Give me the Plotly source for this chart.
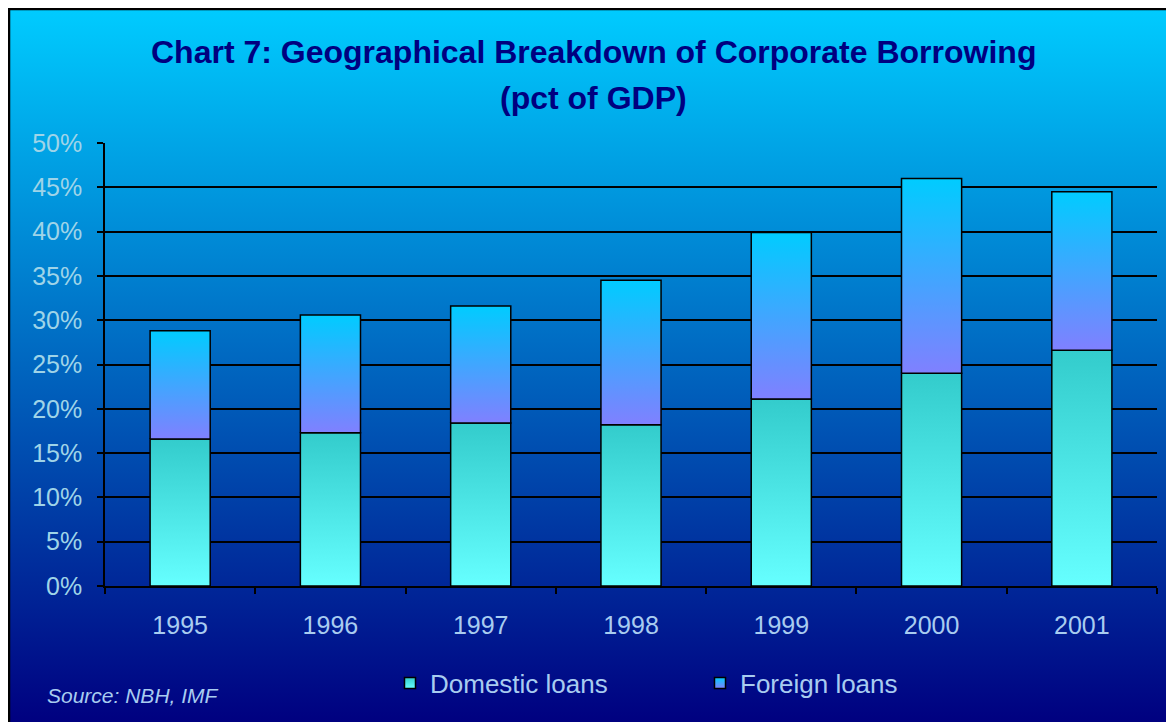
"""Chart 7: geographical breakdown of corporate borrowing, stacked bars with gradients."""

import base64

import plotly.graph_objects as go

years = ["1995", "1996", "1997", "1998", "1999", "2000", "2001"]
domestic = [16.6, 17.3, 18.4, 18.2, 21.1, 24.0, 26.6]
foreign = [12.2, 13.3, 13.2, 16.3, 18.8, 22.0, 17.9]
y_ticks = [0, 5, 10, 15, 20, 25, 30, 35, 40, 45, 50]

W, H = 1166, 714
M = dict(l=97, r=17, t=135, b=136)
PW = W - M["l"] - M["r"]
PH = H - M["t"] - M["b"]

BAR_HALF = 0.2
TEXT = "#A8CCF0"
FONT = "Liberation Sans, Arial, sans-serif"

DOM_COLORS = ("#66FFFF", "#33CCCC")   # bottom, top
FOR_COLORS = ("#8080FF", "#00CCFF")


def _bg_image() -> str:
    svg = (
        f'<svg xmlns="http://www.w3.org/2000/svg" width="{W}" height="{H}">'
        '<defs><linearGradient id="g" x1="0" y1="0" x2="0" y2="1">'
        '<stop offset="0" stop-color="#00CCFF"/>'
        '<stop offset="1" stop-color="#000080"/>'
        "</linearGradient></defs>"
        f'<rect width="{W}" height="{H}" fill="url(#g)"/>'
        f'<path d="M1 {H} V1 H{W}" fill="none" stroke="#000" stroke-width="2.5"/>'
        "</svg>"
    )
    return "data:image/svg+xml;base64," + base64.b64encode(svg.encode()).decode()


def _segment(i, base, height, colors, name):
    x0, x1 = i - BAR_HALF, i + BAR_HALF
    top = base + height
    return go.Scatter(
        x=[x0, x1, x1, x0, x0],
        y=[base, base, top, top, base],
        mode="lines",
        fill="toself",
        fillgradient=dict(
            type="vertical",
            colorscale=[[0, colors[0]], [1, colors[1]]],
        ),
        line=dict(color="black", width=1.5),
        name=name,
        showlegend=False,
        hoverinfo="skip",
    )


fig = go.Figure()

for i in range(len(years)):
    fig.add_trace(_segment(i, 0, domestic[i], DOM_COLORS, "Domestic loans"))
    fig.add_trace(_segment(i, domestic[i], foreign[i], FOR_COLORS, "Foreign loans"))

# legend-only entries with small square swatches
for name, colors in (("Domestic loans", DOM_COLORS), ("Foreign loans", FOR_COLORS)):
    fig.add_trace(
        go.Scatter(
            x=[None],
            y=[None],
            mode="markers",
            name=name,
            marker=dict(
                symbol="square",
                size=11,
                color=colors[1],
                gradient=dict(type="vertical", color=colors[0]),
                line=dict(color="black", width=1.5),
            ),
        )
    )

fig.add_annotation(
    text="<b>Chart 7: Geographical Breakdown of Corporate Borrowing</b>",
    xref="paper", yref="paper", x=(585 - M["l"]) / PW, y=1 + (M["t"] - 44) / PH,
    xanchor="center", yanchor="middle", showarrow=False,
    font=dict(family=FONT, size=32, color="#000080"),
)
fig.add_annotation(
    text="<b>(pct of GDP)</b>",
    xref="paper", yref="paper", x=(585 - M["l"]) / PW, y=1 + (M["t"] - 90) / PH,
    xanchor="center", yanchor="middle", showarrow=False,
    font=dict(family=FONT, size=32, color="#000080"),
)
fig.add_annotation(
    text="<i>Source: NBH, IMF</i>",
    xref="paper", yref="paper", x=(37 - M["l"]) / PW, y=-(687 - PH - M["t"]) / PH,
    xanchor="left", yanchor="middle", showarrow=False,
    font=dict(family=FONT, size=21, color=TEXT),
)

fig.add_layout_image(
    source=_bg_image(),
    xref="paper", yref="paper",
    x=-M["l"] / PW, y=1 + M["t"] / PH,
    sizex=W / PW, sizey=H / PH,
    xanchor="left", yanchor="top",
    sizing="stretch", layer="below",
)

fig.update_layout(
    width=W,
    height=H,
    margin=M,
    paper_bgcolor="rgba(0,0,0,0)",
    plot_bgcolor="rgba(0,0,0,0)",
    font=dict(family=FONT, size=25, color=TEXT),
    showlegend=True,
    legend=dict(
        orientation="h",
        x=(382 - M["l"]) / PW,
        y=-(675 - PH - M["t"]) / PH,
        xanchor="left",
        yanchor="middle",
        bgcolor="rgba(0,0,0,0)",
        font=dict(family=FONT, size=26, color=TEXT),
        entrywidth=265,
        itemclick=False,
    ),
    xaxis=dict(
        range=[-0.5, len(years) - 0.5],
        tickvals=list(range(len(years))),
        ticktext=years,
        ticks="",
        ticklabelstandoff=16,
        showgrid=False,
        zeroline=False,
        showline=True,
        linecolor="black",
        linewidth=1.5,
        minor=dict(
            tickvals=[i - 0.5 for i in range(len(years) + 1)],
            ticks="outside",
            ticklen=6,
            tickcolor="black",
            tickwidth=1.5,
            showgrid=False,
        ),
        fixedrange=True,
    ),
    yaxis=dict(
        range=[0, 50],
        tickvals=y_ticks,
        ticktext=[f"{v}%" for v in y_ticks],
        ticks="outside",
        ticklen=6,
        tickcolor="black",
        tickwidth=1.5,
        ticklabelstandoff=10,
        tickfont=dict(color="#9FD4E8"),
        showgrid=True,
        gridcolor="black",
        gridwidth=2,
        zeroline=False,
        showline=True,
        linecolor="black",
        linewidth=1.5,
        fixedrange=True,
    ),
)

fig.write_html("out.html")
